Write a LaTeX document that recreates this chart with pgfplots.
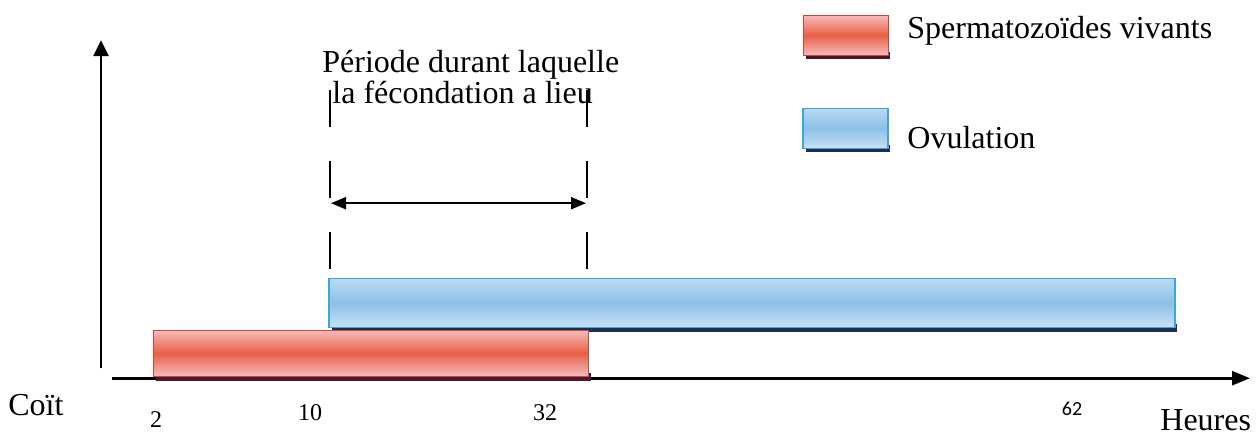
\documentclass[border=0pt]{standalone}
\usepackage{pgfplots}
\pgfplotsset{compat=1.18}
\usetikzlibrary{arrows.meta}
\usepackage{fontspec}
\setmainfont{Liberation Serif}
\newfontfamily\numsans{Carlito}
\definecolor{redmid}{RGB}{232,96,70}
\definecolor{redlight}{RGB}{246,186,188}
\definecolor{redshadow}{RGB}{80,20,45}
\definecolor{bluemid}{RGB}{140,192,232}
\definecolor{bluelight}{RGB}{200,224,244}
\definecolor{blueedge}{RGB}{60,165,220}
\definecolor{blueshadow}{RGB}{30,45,80}
\begin{document}
\begin{tikzpicture}
\begin{axis}[
  x=0.5pt, y=0.5pt,
  xmin=0, xmax=1258, ymin=0, ymax=435,
  scale only axis,
  axis line style={draw=none},
  clip=false,
  ytick=\empty,
  major tick length=0pt,
  xtick={156,310,545},
  xticklabels={\raisebox{-3.5pt}{2},10,32},
  xticklabel style={anchor=base, yshift=7.5pt, font=\fontsize{12}{14}\selectfont},
  extra x ticks={1072},
  extra x tick labels={62},
  extra x tick style={xticklabel style={anchor=base, yshift=2.5pt, font=\numsans\fontsize{10}{12}\selectfont}},
]
% axes
\draw[line width=1.3pt, -{Triangle[length=9pt,width=7pt]}] (axis cs:112,57) -- (axis cs:1250,57);
\draw[line width=1.3pt, -{Triangle[length=8pt,width=7.5pt]}] (axis cs:101,67) -- (axis cs:101,395);
% shadows
\addplot[draw=none, fill=redshadow] coordinates {(156,54) (591,54) (591,62) (156,62)} -- cycle;
\addplot[draw=none, fill=blueshadow] coordinates {(332,103) (1177,103) (1177,111) (332,111)} -- cycle;
% bars
\addplot[draw=redmid!80!black, line width=0.4pt, top color=redlight, bottom color=redlight, middle color=redmid] coordinates {(153,59) (588,59) (588,105) (153,105)} -- cycle;
\addplot[draw=blueedge, line width=0.6pt, top color=bluelight!80!bluemid, bottom color=bluelight, middle color=bluemid] coordinates {(329,108) (1175,108) (1175,157) (329,157)} -- cycle;
% dashed lines
\addplot[black, line width=1pt, dash pattern=on 18.5pt off 17pt] coordinates {(330,345) (330,157)};
\addplot[black, line width=1pt, dash pattern=on 18.5pt off 17pt] coordinates {(587,345) (587,157)};
% double arrow
\addplot[black, line width=1pt, {Triangle[length=7.5pt,width=6pt]}-{Triangle[length=7.5pt,width=6pt]}] coordinates {(331,232) (586,232)};
% annotation text
\node[anchor=base west, inner sep=0pt, font=\fontsize{16}{18}\selectfont] at (axis cs:322,363) {Période durant laquelle};
\node[anchor=base west, inner sep=0pt, font=\fontsize{16}{18}\selectfont] at (axis cs:332,332) {la fécondation a lieu};
% legend
\addplot[draw=none, fill=redshadow] coordinates {(806,376) (890,376) (890,383) (806,383)} -- cycle;
\addplot[draw=redmid!80!black, line width=0.4pt, top color=redlight, bottom color=redlight, middle color=redmid] coordinates {(803,380) (888,380) (888,420) (803,420)} -- cycle;
\addplot[draw=none, fill=blueshadow] coordinates {(806,283) (890,283) (890,290) (806,290)} -- cycle;
\addplot[draw=blueedge, line width=0.6pt, top color=bluelight!80!bluemid, bottom color=bluelight, middle color=bluemid] coordinates {(803,287) (888,287) (888,327) (803,327)} -- cycle;
\node[anchor=base west, inner sep=0pt, font=\fontsize{16}{18}\selectfont] at (axis cs:907,397) {Spermatozoïdes vivants};
\node[anchor=base west, inner sep=0pt, font=\fontsize{16}{18}\selectfont] at (axis cs:907,287) {Ovulation};
% axis texts
\node[anchor=base west, inner sep=0pt, font=\fontsize{16}{18}\selectfont] at (axis cs:8,20) {Coït};
\node[anchor=base west, inner sep=0pt, font=\fontsize{16}{18}\selectfont] at (axis cs:1160,5) {Heures};
\end{axis}
\end{tikzpicture}
\end{document}
